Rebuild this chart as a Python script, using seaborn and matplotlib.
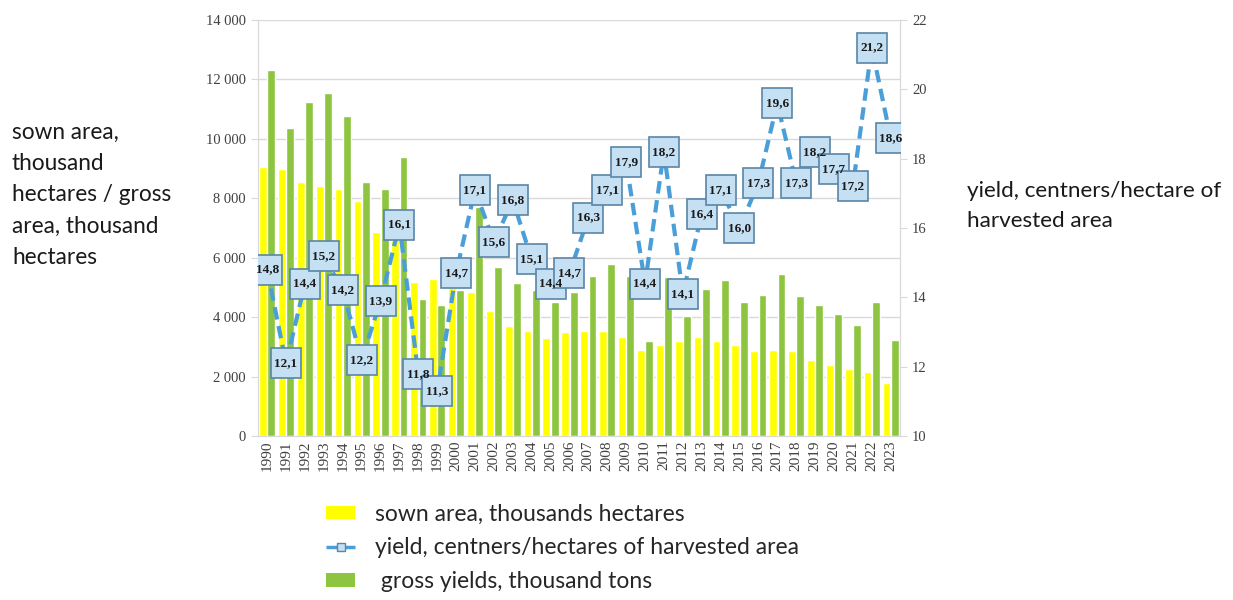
import numpy as np
import pandas as pd
import seaborn as sns
import matplotlib.pyplot as plt
from matplotlib.patches import Patch
from matplotlib.lines import Line2D
from matplotlib.ticker import FuncFormatter

# -------- DATA --------
years = [str(y) for y in range(1990, 2024)]
sown_area = [9050, 9000, 8550, 8400, 8300, 7900, 6850, 6600, 5200, 5300,
             5000, 4850, 4200, 3700, 3550, 3300, 3500, 3550, 3550, 3350,
             2900, 3050, 3200, 3350, 3200, 3050, 2850, 2900, 2850, 2550,
             2400, 2250, 2150, 1800]
gross_yield = [12300, 10350, 11250, 11550, 10750, 8550, 8300, 9400, 4600, 4400,
               4900, 7700, 5700, 5150, 4900, 4500, 4850, 5400, 5800, 5400,
               3200, 5350, 4050, 4950, 5250, 4500, 4750, 5450, 4700, 4400,
               4100, 3750, 4500, 3250]
yield_ch = [14.8, 12.1, 14.4, 15.2, 14.2, 12.2, 13.9, 16.1, 11.8, 11.3,
            14.7, 17.1, 15.6, 16.8, 15.1, 14.4, 14.7, 16.3, 17.1, 17.9,
            14.4, 18.2, 14.1, 16.4, 17.1, 16.0, 17.3, 19.6, 17.3, 18.2,
            17.7, 17.2, 21.2, 18.6]

YELLOW = '#ffff00'
GREEN = '#8dc540'
BLUE = '#4a9fd9'
BOX_FC = '#c5dff3'
BOX_EC = '#5a86a8'
TICK_C = '#404040'
GRID_C = '#d9d9d9'

df = pd.DataFrame({'year': years, 'sown': sown_area, 'gross': gross_yield})
df_long = df.melt(id_vars='year', var_name='series', value_name='value')

sns.set_style('white')
plt.rcParams['font.family'] = ['Liberation Serif', 'DejaVu Serif']

fig, ax = plt.subplots(figsize=(12.33, 6.0), dpi=100)
fig.subplots_adjust(left=0.209, right=0.730, bottom=0.273, top=0.967)

# -------- BARS --------
sns.barplot(data=df_long, x='year', y='value', hue='series', order=years,
            hue_order=['sown', 'gross'], palette={'sown': YELLOW, 'gross': GREEN},
            width=0.88, gap=0.06, saturation=1, legend=False, ax=ax, zorder=2)
ax.set_ylim(0, 14000)
ax.set_yticks(np.arange(0, 14001, 2000))
ax.yaxis.set_major_formatter(FuncFormatter(lambda v, p: f'{int(v):,}'.replace(',', ' ')))
ax.set_xlim(-0.5, len(years) - 0.5)
ax.set_xlabel('')
ax.set_ylabel('')
ax.grid(axis='y', color=GRID_C, linewidth=1, zorder=0)
ax.set_axisbelow(True)
ax.set_xticks(range(len(years)))
ax.set_xticklabels(years, rotation=90)
ax.set_xticks(np.arange(-0.5, len(years), 1), minor=True)
ax.tick_params(axis='x', which='major', length=0, labelsize=11, colors=TICK_C, pad=3)
ax.tick_params(axis='x', which='minor', length=5, color=GRID_C)
ax.tick_params(axis='y', length=5, color=GRID_C, labelsize=10.5, labelcolor=TICK_C)
for s in ['left', 'bottom', 'right']:
    ax.spines[s].set_color(GRID_C)
ax.spines['top'].set_visible(False)

# -------- YIELD LINE (right axis) --------
ax2 = ax.twinx()
x_pos = np.arange(len(years))
sns.lineplot(x=x_pos, y=yield_ch, ax=ax2, color=BLUE, linewidth=3,
             linestyle=(0, (3, 1.6)), marker='s', markersize=21,
             markerfacecolor=BOX_FC, markeredgecolor=BOX_EC, markeredgewidth=1.2,
             zorder=3)
for xi, v in zip(x_pos, yield_ch):
    ax2.text(xi, v, f'{v:.1f}'.replace('.', ','), ha='center', va='center',
             fontsize=9.5, fontweight='bold', color='#1a1a1a', zorder=4)
ax2.set_ylim(10, 22)
ax2.set_yticks(np.arange(10, 23, 2))
ax2.tick_params(axis='y', length=5, color=GRID_C, labelsize=10.5, labelcolor=TICK_C)
for s in ['left', 'bottom', 'right']:
    ax2.spines[s].set_color(GRID_C)
ax2.spines['top'].set_visible(False)
ax2.set_ylabel('')

# -------- SIDE LABELS --------
side_font = ['Lato', 'DejaVu Sans']
fig.text(0.0097, 0.797, 'sown area,\nthousand\nhectares / gross\narea, thousand\nhectares',
         ha='left', va='top', fontsize=16.3, family=side_font, linespacing=1.6, color='#1a1a1a')
fig.text(0.784, 0.698, 'yield, centners/hectare of\nharvested area',
         ha='left', va='top', fontsize=16.2, family=side_font, linespacing=1.6, color='#1a1a1a')

# -------- LEGEND --------
handles = [Patch(facecolor=YELLOW, edgecolor='none'),
           Line2D([], [], color=BLUE, linewidth=2.5, linestyle='--', marker='s',
                  markersize=6, markerfacecolor=BOX_FC, markeredgecolor=BOX_EC),
           Patch(facecolor=GREEN, edgecolor='none')]
labels = ['sown area, thousands hectares',
          'yield, centners/hectares of harvested area',
          ' gross yields, thousand tons']
fig.legend(handles, labels, loc='upper left', bbox_to_anchor=(0.248, 0.195),
           frameon=False, prop={'family': side_font, 'size': 16.5},
           handlelength=1.25, handleheight=0.55, handletextpad=0.85, labelspacing=0.55)

plt.savefig('out.png', dpi=100)
